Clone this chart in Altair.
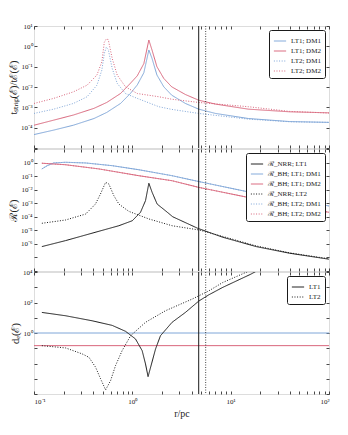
import altair as alt
import pandas as pd
import math

# ---------------- data (log10 r [pc], log10 value) ----------------
# top panel: t_strip(E)/t_E(E)
TOP_LR_LT1 = [-1.0, -0.8, -0.6, -0.39, -0.26, -0.12, -0.02, 0.05, 0.117, 0.168, 0.20, 0.25, 0.32, 0.40, 0.54, 0.675, 0.845, 1.18, 1.6, 2.0]
TOP_LT1_DM1 = [-4.34, -4.12, -3.88, -3.55, -3.25, -2.81, -2.32, -1.90, -1.30, -0.18, -0.59, -1.41, -1.99, -2.40, -2.81, -3.09, -3.30, -3.55, -3.70, -3.74]
TOP_LT1_DM2 = [-3.88, -3.63, -3.38, -3.05, -2.76, -2.32, -1.82, -1.45, -0.85, 0.31, -0.18, -1.00, -1.58, -1.99, -2.37, -2.65, -2.84, -3.09, -3.22, -3.27]
TOP_LR_LT2 = [-1.0, -0.8, -0.6, -0.46, -0.36, -0.31, -0.285, -0.265, -0.245, -0.205, -0.154, -0.07, 0.05, 0.27, 0.40, 0.675, 1.18, 1.6, 2.0]
TOP_LT2_DM1 = [-3.30, -3.09, -2.81, -2.48, -1.91, -1.17, -0.35, -0.05, -0.15, -1.08, -1.82, -2.32, -2.56, -2.97, -3.10, -3.30, -3.58, -3.71, -3.74]
TOP_LT2_DM2 = [-2.81, -2.56, -2.24, -1.91, -1.41, -0.76, 0.20, 0.36, 0.33, -0.59, -1.41, -1.99, -2.32, -2.48, -2.60, -2.76, -2.97, -3.20, -3.28]

# middle panel: R(E)
MID_LR_BH1 = [-0.92, -0.865, -0.80, -0.68, -0.475, -0.205, 0.066, 0.404, 0.675, 1.17, 2.0]
MID_BH_DM1 = [-0.47, -0.23, -0.03, 0.02, -0.03, -0.23, -0.53, -0.97, -1.40, -2.15, -3.20]
MID_LR_BH2 = [-0.92, -0.68, -0.34, 0.066, 0.404, 0.675, 1.17, 2.0]
MID_BH_DM2 = [-0.05, -0.16, -0.47, -0.97, -1.34, -1.83, -2.56, -3.67]
MID_LR_NRR1 = [-0.92, -0.68, -0.34, -0.137, 0.0, 0.083, 0.134, 0.168, 0.201, 0.252, 0.336, 0.411, 0.665, 0.92, 1.26, 1.6, 2.0]
MID_NRR_LT1 = [-6.20, -5.76, -5.07, -4.66, -4.29, -3.67, -2.81, -1.53, -2.19, -3.06, -3.55, -4.00, -4.85, -5.51, -6.20, -6.69, -7.13]
MID_LR_NRR2 = [-0.92, -0.68, -0.475, -0.375, -0.324, -0.272, -0.239, -0.188, -0.137, -0.036, 0.168, 0.404, 0.675, 0.92, 1.26, 1.6, 2.0]
MID_NRR_LT2 = [-4.48, -4.24, -3.80, -3.06, -2.32, -1.46, -1.58, -2.44, -3.06, -3.60, -4.16, -4.66, -4.97, -5.45, -6.15, -6.66, -7.10]

# bottom panel: d_e(E)
BOT_LR_LT1 = [-0.92, -0.678, -0.408, -0.205, -0.069, 0.032, 0.10, 0.134, 0.160, 0.195, 0.236, 0.286, 0.404, 0.54, 0.675, 0.777, 0.919, 1.206, 1.26]
BOT_LT1 = [1.35, 1.13, 0.80, 0.50, 0.11, -0.39, -1.16, -2.03, -2.86, -2.03, -1.05, -0.18, 0.70, 1.35, 2.09, 2.50, 2.99, 3.86, 4.05]
BOT_LR_LT2 = [-0.92, -0.678, -0.51, -0.442, -0.374, -0.323, -0.272, -0.221, -0.171, -0.104, -0.018, 0.134, 0.337, 0.607, 0.777, 0.919, 1.2]
BOT_LT2 = [-0.83, -0.98, -1.37, -1.59, -2.24, -3.00, -3.73, -3.12, -2.14, -1.16, -0.18, 0.70, 1.46, 2.22, 2.76, 3.31, 4.10]
BOT_HLINE_DM1 = [1.0]
BOT_HLINE_DM2 = [0.148]
VLINES_SOLID = [4.73]
VLINES_DOTTED = [5.57]

TOP_LABELS = ["LT1; DM1", "LT1; DM2", "LT2; DM1", "LT2; DM2"]
MID_LABELS = ["ℛ_NRR; LT1", "ℛ_BH; LT1; DM1", "ℛ_BH; LT1; DM2", "ℛ_NRR; LT2", "ℛ_BH; LT2; DM1", "ℛ_BH; LT2; DM2"]
BOT_LABELS = ["LT1", "LT2"]

BLUE = "#7fa6d8"
RED = "#d9667c"
BLACK = "#1a1a1a"
FONT = "Liberation Serif"
SOLID = [1, 0]
DOT = [1, 1.6]


def frame(series):
    rows = []
    for label, lrs, lys in series:
        for a, b in zip(lrs, lys):
            rows.append({"r": 10 ** a, "v": 10 ** b, "label": label})
    return pd.DataFrame(rows)


SUP = str.maketrans("-0123456789", "⁻⁰¹²³⁴⁵⁶⁷⁸⁹")


def label_expr(exps):
    parts = [f"abs(log(datum.value)/LN10 - ({e})) < 0.01 ? '10{str(e).translate(SUP)}'" for e in exps]
    return " : ".join(parts) + " : ''"


X_MAJOR = [0.1, 1, 10, 100]
X_VALUES = X_MAJOR + [k * 10 ** e for e in (-1, 0, 1) for k in range(2, 10)]
xscale = alt.Scale(type="log", domain=[0.1, 100], nice=False)

W, H = 295, 122


def tick_axis(orient, values, **kw):
    base = dict(orient=orient, values=values, offset=-3, tickSize=3, domain=False, grid=False,
                tickColor=BLACK, tickWidth=0.8, labelFont=FONT, labelFontSize=7, labelColor="#222",
                labelPadding=2)
    base.update(kw)
    return alt.Axis(**base)


def panel(df, labels, colors, dashes, ydom, yvals, ylab, ytitle, xlabels, extra=None):
    yscale = alt.Scale(type="log", domain=ydom, nice=False)
    leg = alt.Legend(orient="top-right", offset=4, title=None, fillColor="white", strokeColor=BLACK,
                     padding=4, cornerRadius=2, labelFont=FONT, labelFontSize=7, labelColor="#222",
                     symbolType="stroke", symbolSize=150, symbolStrokeWidth=1, rowPadding=0,
                     labelOffset=4)
    if xlabels:
        xa = tick_axis("bottom", X_VALUES, labelExpr=label_expr([-1, 0, 1, 2]), title="r/pc",
                       titleFont=FONT, titleFontSize=10, titleFontWeight="normal", titleColor="#222",
                       titlePadding=4, labelPadding=3)
    else:
        xa = tick_axis("bottom", X_VALUES, labels=False, title=None)
    ya = tick_axis("left", yvals, labelExpr=label_expr(ylab), title=ytitle, titleFont=FONT,
                   titleFontSize=10.5, titleFontWeight="normal", titleColor="#222", titlePadding=2)
    lines = alt.Chart(df).mark_line(clip=True, strokeWidth=1).encode(
        x=alt.X("r:Q", scale=xscale, axis=xa),
        y=alt.Y("v:Q", scale=yscale, axis=ya),
        color=alt.Color("label:N", scale=alt.Scale(domain=labels, range=colors), legend=leg),
        strokeDash=alt.StrokeDash("label:N", scale=alt.Scale(domain=labels, range=dashes), legend=leg),
    )
    vs = alt.Chart(pd.DataFrame({"r": VLINES_SOLID})).mark_rule(color=BLACK, strokeWidth=1).encode(
        x=alt.X("r:Q", scale=xscale, axis=None))
    vd = alt.Chart(pd.DataFrame({"r": VLINES_DOTTED})).mark_rule(color=BLACK, strokeWidth=0.8, strokeDash=[1, 1.5]).encode(
        x=alt.X("r:Q", scale=xscale, axis=None))
    mid_v = 10 ** ((math.log10(ydom[0]) + math.log10(ydom[1])) / 2)
    carrier = alt.Chart(pd.DataFrame({"r": [1.0], "v": [mid_v]})).mark_point(opacity=0).encode(
        x=alt.X("r:Q", scale=xscale, axis=tick_axis("top", X_VALUES, labels=False, title=None)),
        y=alt.Y("v:Q", scale=yscale, axis=tick_axis("right", yvals, labels=False, title=None)),
    )
    layers = []
    if extra is not None:
        layers += extra(yscale)
    layers += [lines, vs, vd, carrier]
    return alt.layer(*layers).resolve_axis(x="independent", y="independent").properties(width=W, height=H)


top_df = frame([
    ("LT1; DM1", TOP_LR_LT1, TOP_LT1_DM1),
    ("LT1; DM2", TOP_LR_LT1, TOP_LT1_DM2),
    ("LT2; DM1", TOP_LR_LT2, TOP_LT2_DM1),
    ("LT2; DM2", TOP_LR_LT2, TOP_LT2_DM2),
])
mid_df = frame([
    ("ℛ_BH; LT2; DM1", MID_LR_BH1, MID_BH_DM1),
    ("ℛ_BH; LT2; DM2", MID_LR_BH2, MID_BH_DM2),
    ("ℛ_NRR; LT1", MID_LR_NRR1, MID_NRR_LT1),
    ("ℛ_BH; LT1; DM1", MID_LR_BH1, MID_BH_DM1),
    ("ℛ_BH; LT1; DM2", MID_LR_BH2, MID_BH_DM2),
    ("ℛ_NRR; LT2", MID_LR_NRR2, MID_NRR_LT2),
])
bot_df = frame([
    ("LT1", BOT_LR_LT1, BOT_LT1),
    ("LT2", BOT_LR_LT2, BOT_LT2),
])


def hlines(yscale):
    h1 = alt.Chart(pd.DataFrame({"v": BOT_HLINE_DM1})).mark_rule(strokeWidth=1, color=BLUE).encode(
        y=alt.Y("v:Q", scale=yscale, axis=None))
    h2 = alt.Chart(pd.DataFrame({"v": BOT_HLINE_DM2})).mark_rule(strokeWidth=1, color=RED).encode(
        y=alt.Y("v:Q", scale=yscale, axis=None))
    return [h1, h2]


top = panel(top_df, TOP_LABELS, [BLUE, RED, BLUE, RED], [SOLID, SOLID, DOT, DOT],
            [1e-5, 1e1], [10.0 ** e for e in range(-5, 2)], [1, 0, -1, -2, -3, -4],
            "tₛₜᵣᵢₚ(ℰ)/tℰ(ℰ)", False)
mid = panel(mid_df, MID_LABELS, [BLACK, BLUE, RED, BLACK, BLUE, RED], [SOLID, SOLID, SOLID, DOT, DOT, DOT],
            [1e-8, 1e1], [10.0 ** e for e in range(-8, 2)], [0, -1, -2, -3, -4, -5, -6],
            "ℛ(ℰ)", False)
bot = panel(bot_df, BOT_LABELS, [BLACK, BLACK], [SOLID, DOT],
            [1e-4, 1e4], [10.0 ** e for e in range(-4, 5)], [4, 2, 0],
            "dₑ(ℰ)", True, extra=hlines)

chart = alt.vconcat(top, mid, bot, spacing=1, bounds="flush").resolve_scale(
    color="independent", strokeDash="independent"
).properties(
    padding={"top": 13, "left": 0, "right": 5, "bottom": 5}
).configure_view(stroke=BLACK, strokeWidth=1).configure(background="white")

chart.save("out.html", embed_options={"renderer": "svg", "actions": False})
